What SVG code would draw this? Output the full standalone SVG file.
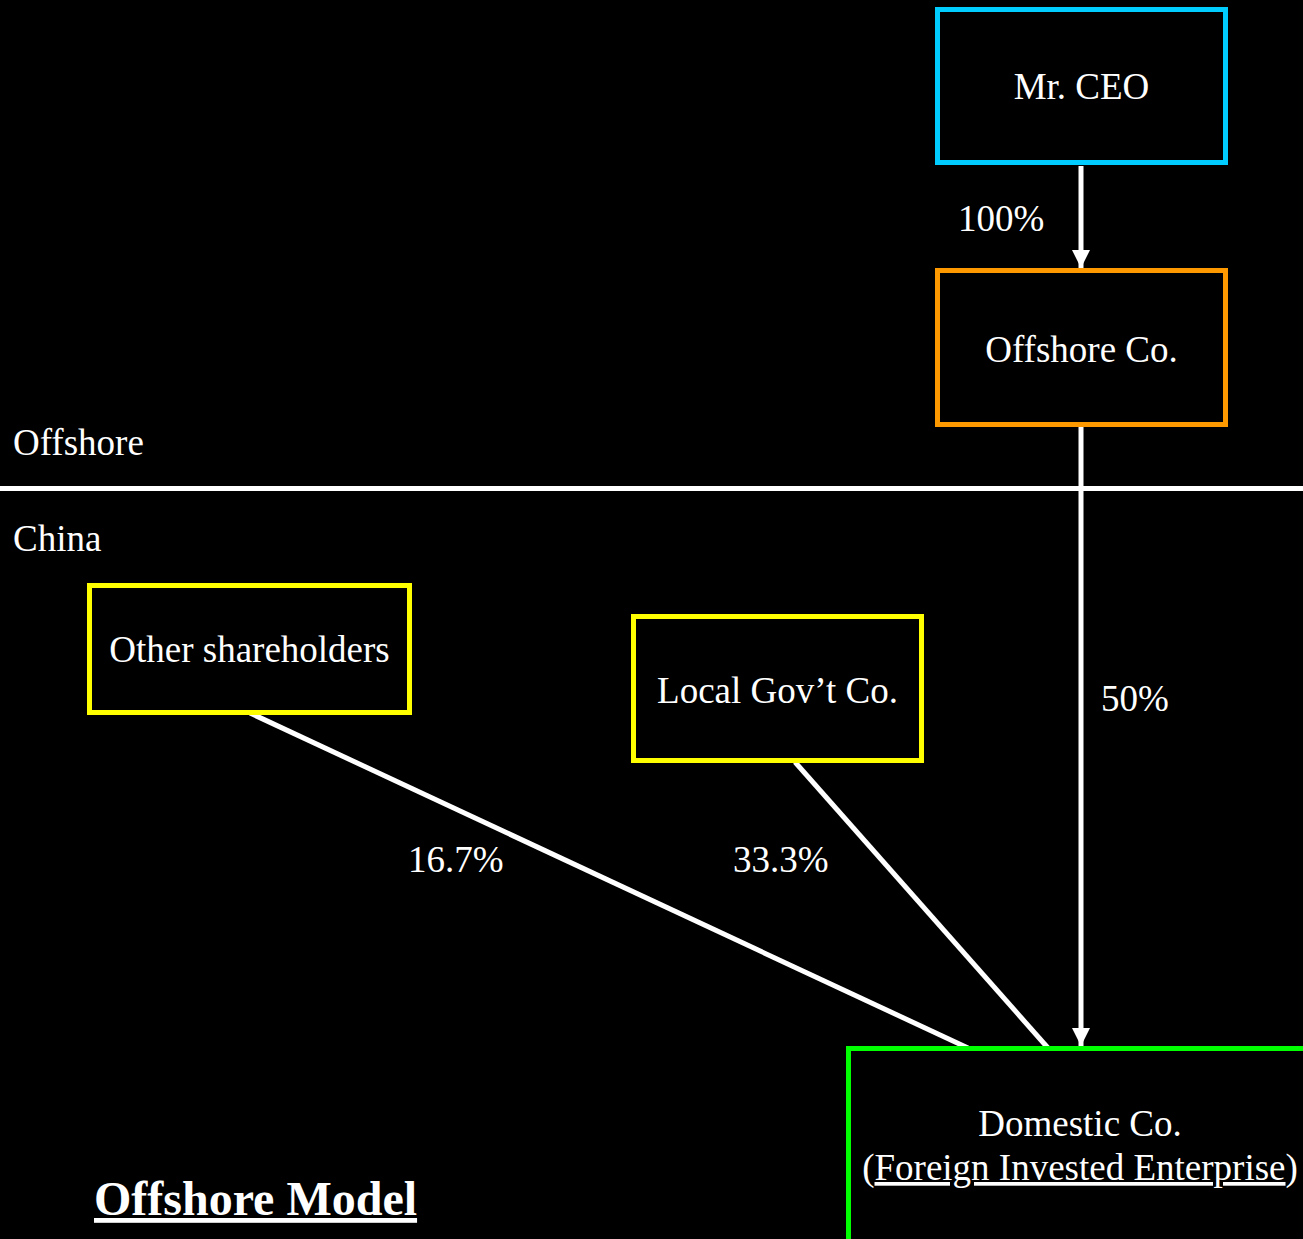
<svg xmlns="http://www.w3.org/2000/svg" width="1303" height="1239" viewBox="0 0 1303 1239">
<style>
.t{font-family:"Liberation Serif","Times New Roman",serif;font-size:37px;fill:#fff}
.box{fill:#000;stroke-width:5}
.c{stroke:#fff;stroke-width:5;fill:none}
</style>
<defs>
<marker id="ah" markerUnits="userSpaceOnUse" markerWidth="20" markerHeight="20" viewBox="0 0 20 20" refX="18" refY="10" orient="auto">
<path d="M0,1 L18,10 L0,19 Z" fill="#fff"/>
</marker>
</defs>
<rect width="1303" height="1239" fill="#000"/>
<line x1="0" y1="488.5" x2="1303" y2="488.5" stroke="#fff" stroke-width="5"/>
<text class="t" x="13" y="455">Offshore</text>
<text class="t" x="13" y="551">China</text>
<g id="connectors">
<line class="c" x1="1081" y1="166" x2="1081" y2="268" marker-end="url(#ah)"/>
<line class="c" x1="1081" y1="427" x2="1081" y2="1046" marker-end="url(#ah)"/>
<line class="c" x1="250" y1="713" x2="968" y2="1048"/>
<line class="c" x1="795" y1="762" x2="1048" y2="1048"/>
<text class="t" x="958" y="231">100%</text>
<text class="t" x="1101" y="711">50%</text>
<text class="t" x="408" y="872">16.7%</text>
<text class="t" x="733" y="872">33.3%</text>
</g>
<g id="ceo">
<rect class="box" x="937.5" y="9.5" width="288" height="153" stroke="#00CCFF"/>
<text class="t" x="1081.5" y="99" text-anchor="middle">Mr. CEO</text>
</g>
<g id="offshoreco">
<rect class="box" x="937.5" y="270.5" width="288" height="154" stroke="#FF9900"/>
<text class="t" x="1081.5" y="362" text-anchor="middle">Offshore Co.</text>
</g>
<g id="other">
<rect class="box" x="89.5" y="585.5" width="320" height="127" stroke="#FFFF00"/>
<text class="t" x="249.5" y="662" text-anchor="middle">Other shareholders</text>
</g>
<g id="localgov">
<rect class="box" x="633.5" y="616.5" width="288" height="144" stroke="#FFFF00"/>
<text class="t" x="777.5" y="703" text-anchor="middle">Local Gov’t Co.</text>
</g>
<g id="domestic">
<rect class="box" x="848.5" y="1048.5" width="470" height="210" stroke="#00FF00"/>
<text class="t" x="1080" y="1136" text-anchor="middle">Domestic Co.</text>
<text class="t" x="1080" y="1180" text-anchor="middle">(<tspan text-decoration="underline">Foreign Invested Enterprise</tspan>)</text>
</g>
<text x="94" y="1215" font-family="Liberation Serif, Times New Roman, serif" font-size="48" font-weight="bold" fill="#fff" text-decoration="underline">Offshore Model</text>
</svg>
